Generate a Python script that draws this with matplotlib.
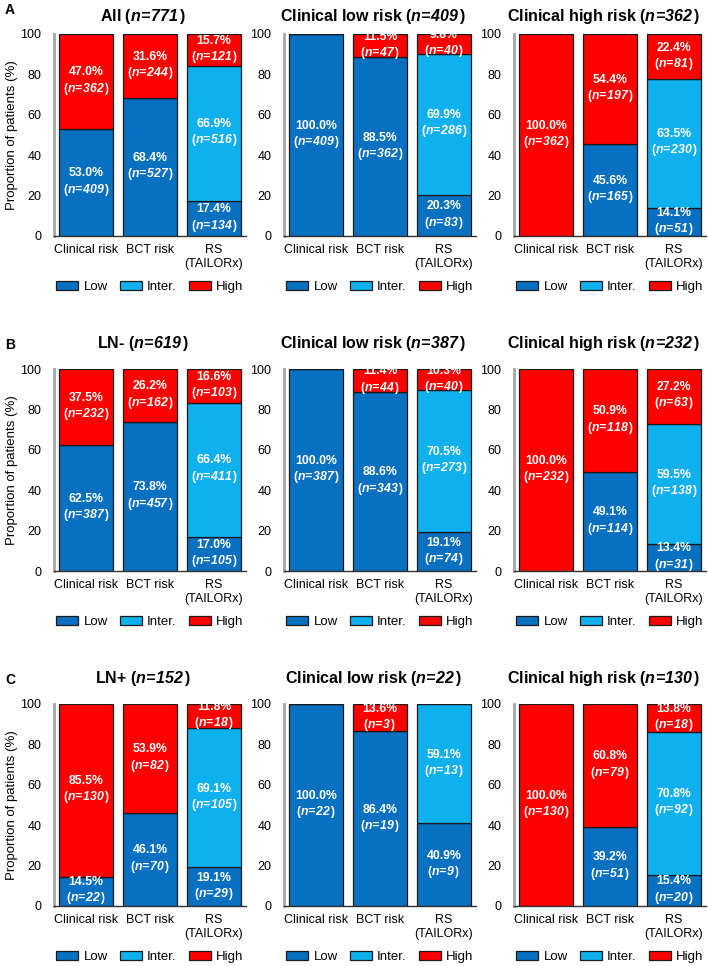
import matplotlib
matplotlib.use('Agg')
import numpy as np
import matplotlib.pyplot as plt
from matplotlib.patches import Patch

plt.rcParams['font.family'] = ['Liberation Sans', 'DejaVu Sans']
plt.rcParams['mathtext.fontset'] = 'custom'
plt.rcParams['mathtext.rm'] = 'Liberation Sans'
plt.rcParams['mathtext.bf'] = 'Liberation Sans:bold'
plt.rcParams['mathtext.it'] = 'Liberation Sans:italic'
plt.rcParams['mathtext.bfit'] = 'Liberation Sans:italic:bold'

CATEGORIES   = ['Clinical risk', 'BCT risk', 'RS\n(TAILORx)']
ROW_LETTERS  = ['A', 'B', 'C']
PANEL_NAMES  = ['All', 'Clinical low risk', 'Clinical high risk',
                'LN-', 'Clinical low risk', 'Clinical high risk',
                'LN+', 'Clinical low risk', 'Clinical high risk']
PANEL_N      = [771, 409, 362, 619, 387, 232, 152, 22, 130]
LEVELS       = ['Low', 'Inter.', 'High']

# percentages per panel, one entry per bar (clinical, BCT, RS)
LOW_PCT   = [[53.0, 68.4, 17.4], [100.0, 88.5, 20.3], [0.0, 45.6, 14.1],
             [62.5, 73.8, 17.0], [100.0, 88.6, 19.1], [0.0, 49.1, 13.4],
             [14.5, 46.1, 19.1], [100.0, 86.4, 40.9], [0.0, 39.2, 15.4]]
INTER_PCT = [[0, 0, 66.9], [0, 0, 69.9], [0, 0, 63.5],
             [0, 0, 66.4], [0, 0, 70.5], [0, 0, 59.5],
             [0, 0, 69.1], [0, 0, 59.1], [0, 0, 70.8]]
HIGH_PCT  = [[47.0, 31.6, 15.7], [0.0, 11.5, 9.8], [100.0, 54.4, 22.4],
             [37.5, 26.2, 16.6], [0.0, 11.4, 10.3], [100.0, 50.9, 27.2],
             [85.5, 53.9, 11.8], [0.0, 13.6, 0.0], [100.0, 60.8, 13.8]]

# patient counts
LOW_N   = [[409, 527, 134], [409, 362, 83], [0, 165, 51],
           [387, 457, 105], [387, 343, 74], [0, 114, 31],
           [22, 70, 29], [22, 19, 9], [0, 51, 20]]
INTER_N = [[0, 0, 516], [0, 0, 286], [0, 0, 230],
           [0, 0, 411], [0, 0, 273], [0, 0, 138],
           [0, 0, 105], [0, 0, 13], [0, 0, 92]]
HIGH_N  = [[362, 244, 121], [0, 47, 40], [362, 197, 81],
           [232, 162, 103], [0, 44, 40], [232, 118, 63],
           [130, 82, 18], [0, 3, 0], [130, 79, 18]]

COLORS = ['#0870C0', '#0FB0EE', '#FF0000']
EDGE   = '#1A1A1A'

W, H = 708, 966
AX_LEFT = [54, 284, 514]
AX_TOP  = [34, 369, 704]
AX_W, AX_H = 192, 202
TITLE_PAD = [9, 15, 15]


def n_label(n):
    # \! cancels the spacing mathtext puts round "="
    return r'$\mathbf{(}\mathbfit{n\!=\!%d}\,\mathbf{)}$' % n


fig = plt.figure(figsize=(W / 100, H / 100), dpi=100)
x = np.arange(len(CATEGORIES))

for i in range(9):
    r, c = divmod(i, 3)
    ax = fig.add_axes([AX_LEFT[c] / W, 1 - (AX_TOP[r] + AX_H) / H, AX_W / W, AX_H / H])

    pcts = [LOW_PCT[i], INTER_PCT[i], HIGH_PCT[i]]
    ns   = [LOW_N[i], INTER_N[i], HIGH_N[i]]
    bottom = np.zeros(3)
    for k in range(3):
        vals = np.array(pcts[k], dtype=float)
        ax.bar(x, vals, width=0.84, bottom=bottom, color=COLORS[k],
               edgecolor=EDGE, linewidth=0.9, zorder=2)
        for j in range(3):
            if vals[j] > 0:
                ax.text(x[j], bottom[j] + vals[j] / 2,
                        f'{vals[j]:.1f}%\n' + n_label(ns[k][j]),
                        ha='center', va='center', color='white',
                        fontsize=8.8, fontweight='bold', linespacing=1.2, zorder=3)
        bottom += vals

    ax.set_xlim(-0.5, 2.5)
    ax.set_ylim(0, 100)
    ax.set_yticks([0, 20, 40, 60, 80, 100])
    ax.set_xticks(x)
    ax.set_xticklabels(CATEGORIES, fontsize=9, linespacing=1.15)
    ax.tick_params(axis='y', length=0, pad=9, labelsize=9)
    ax.tick_params(axis='x', length=0, pad=6)
    for s in ['top', 'right']:
        ax.spines[s].set_visible(False)
    ax.spines['left'].set_color('#A6A6A6')
    ax.spines['left'].set_linewidth(2.0)
    ax.spines['bottom'].set_color('#333333')
    ax.spines['bottom'].set_linewidth(1.0)

    ax.set_title(PANEL_NAMES[i] + ' ' + n_label(PANEL_N[i]), x=0.465,
                 fontsize=11.5, fontweight='bold', pad=TITLE_PAD[r])

    if c == 0:
        ax.set_ylabel('Proportion of patients (%)', fontsize=9.5)
        ax.yaxis.set_label_coords(-0.19, 0.5)
        fig.text(10 / W, 1 - (AX_TOP[r] - 24) / H, ROW_LETTERS[r],
                 fontsize=10, fontweight='bold', ha='center', va='center')

    handles = [Patch(facecolor=COLORS[k], edgecolor=EDGE, linewidth=0.9) for k in range(3)]
    ax.legend(handles, LEVELS, loc='center', bbox_to_anchor=(0.5, -0.2525), ncol=3,
              frameon=False, fontsize=9.5, handlelength=1.65, handleheight=0.7,
              handletextpad=0.4, columnspacing=0.95)

plt.savefig('out.png', dpi=100)
